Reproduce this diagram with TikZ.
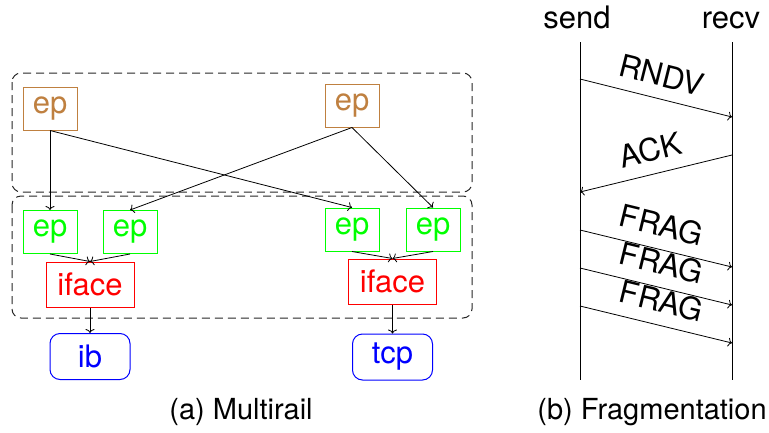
\documentclass[tikz,border=0pt]{standalone}
\usepackage{fontspec}
\setmainfont{TeX Gyre Heros}
\usepackage{xcolor}
\usepackage{tikz}
\usetikzlibrary{arrows.meta, positioning}

\begin{document}
\begin{tikzpicture}[
  x=1pt, y=-1pt,
  ep/.style={rectangle, draw, line width=1pt, minimum width=54pt,
    minimum height=43pt, inner sep=0pt, font=\fontsize{31}{36}\selectfont},
  upper/.style={ep, draw=brown, text=brown},
  lower/.style={ep, draw=green, text=green},
  iface/.style={rectangle, draw=red, text=red, line width=1pt,
    minimum width=88pt, minimum height=45pt, inner sep=0pt,
    font=\fontsize{31}{36}\selectfont},
  rail/.style={rectangle, draw=blue, text=blue, line width=1pt,
    rounded corners=10pt, minimum width=80pt, minimum height=46pt,
    inner sep=0pt, font=\fontsize{31}{36}\selectfont},
  group/.style={draw=black!85, line width=1pt, dash pattern=on 8pt off 5pt,
    rounded corners=9pt},
  link/.style={-{To[length=4pt,width=9pt]}, line width=0.8pt},
  msg/.style={-{To[length=4pt,width=9pt]}, line width=0.8pt},
  lbl/.style={font=\fontsize{31}{36}\selectfont, inner sep=1pt},
  caption/.style={font=\fontsize{29}{34}\selectfont, inner sep=0pt}
]
  \useasboundingbox (0,0) rectangle (769,432);

  %% (a) multirail
  \draw[group] (12,73) rectangle (472,192);
  \draw[group] (12,196) rectangle (472,318);

  \node[upper] (topL) at (50,108.5) {ep};
  \node[upper] (topR) at (352,105.5) {ep};

  \node[lower] (ep1) at (50,232) {ep};
  \node[lower] (ep2) at (130,232) {ep};
  \node[lower] (ep3) at (352,229.5) {ep};
  \node[lower] (ep4) at (433,229.5) {ep};

  \node[iface] (ifL) at (90,284.5) {iface};
  \node[iface] (ifR) at (392.5,281.5) {iface};

  \node[rail] (ib) at (90,356.5) {ib};
  \node[rail] (tcp) at (392.5,357) {tcp};

  \draw[link] (topL.south) -- (ep1.north);
  \draw[link] (topL.south) -- (ep3.north);
  \draw[link] (topR.south) -- (ep2.north);
  \draw[link] (topR.south) -- (ep4.north);

  \draw[link] (ep1.south) -- (ifL.north);
  \draw[link] (ep2.south) -- (ifL.north);
  \draw[link] (ep3.south) -- (ifR.north);
  \draw[link] (ep4.south) -- (ifR.north);

  \draw[link] (ifL.south) -- (ib.north);
  \draw[link] (ifR.south) -- (tcp.north);

  \node[caption, anchor=base] (capA) at (241,419) {(a) Multirail};

  %% (b) fragmentation
  \node[lbl, anchor=base] (send) at (577,28) {send};
  \node[lbl, anchor=base] (recv) at (731,28) {recv};

  \coordinate (sTop) at (580,42);
  \coordinate (sBot) at (580,380);
  \coordinate (rTop) at (732,42);
  \coordinate (rBot) at (732,380);
  \draw[line width=0.8pt] (sTop) -- (sBot);
  \draw[line width=0.8pt] (rTop) -- (rBot);

  \coordinate (rndvA) at (580,79);   \coordinate (rndvB) at (732,117);
  \coordinate (ackA)  at (732,155);  \coordinate (ackB)  at (580,192);
  \coordinate (fragA) at (580,230);  \coordinate (fragB) at (732,267);
  \coordinate (fragC) at (580,268);  \coordinate (fragD) at (732,305);
  \coordinate (fragE) at (580,306);  \coordinate (fragF) at (732,343);

  \draw[msg] (rndvA) -- node[lbl, sloped, above=11pt] {RNDV} (rndvB);
  \draw[msg] (ackA) -- node[lbl, sloped, above=11pt] {ACK} (ackB);
  \draw[msg] (fragA) -- node[lbl, sloped, above=11pt] {FRAG} (fragB);
  \draw[msg] (fragC) -- node[lbl, sloped, above=11pt] {FRAG} (fragD);
  \draw[msg] (fragE) -- node[lbl, sloped, above=11pt] {FRAG} (fragF);

  \node[caption, anchor=base] (capB) at (652,419) {(b) Fragmentation};
\end{tikzpicture}
\end{document}
